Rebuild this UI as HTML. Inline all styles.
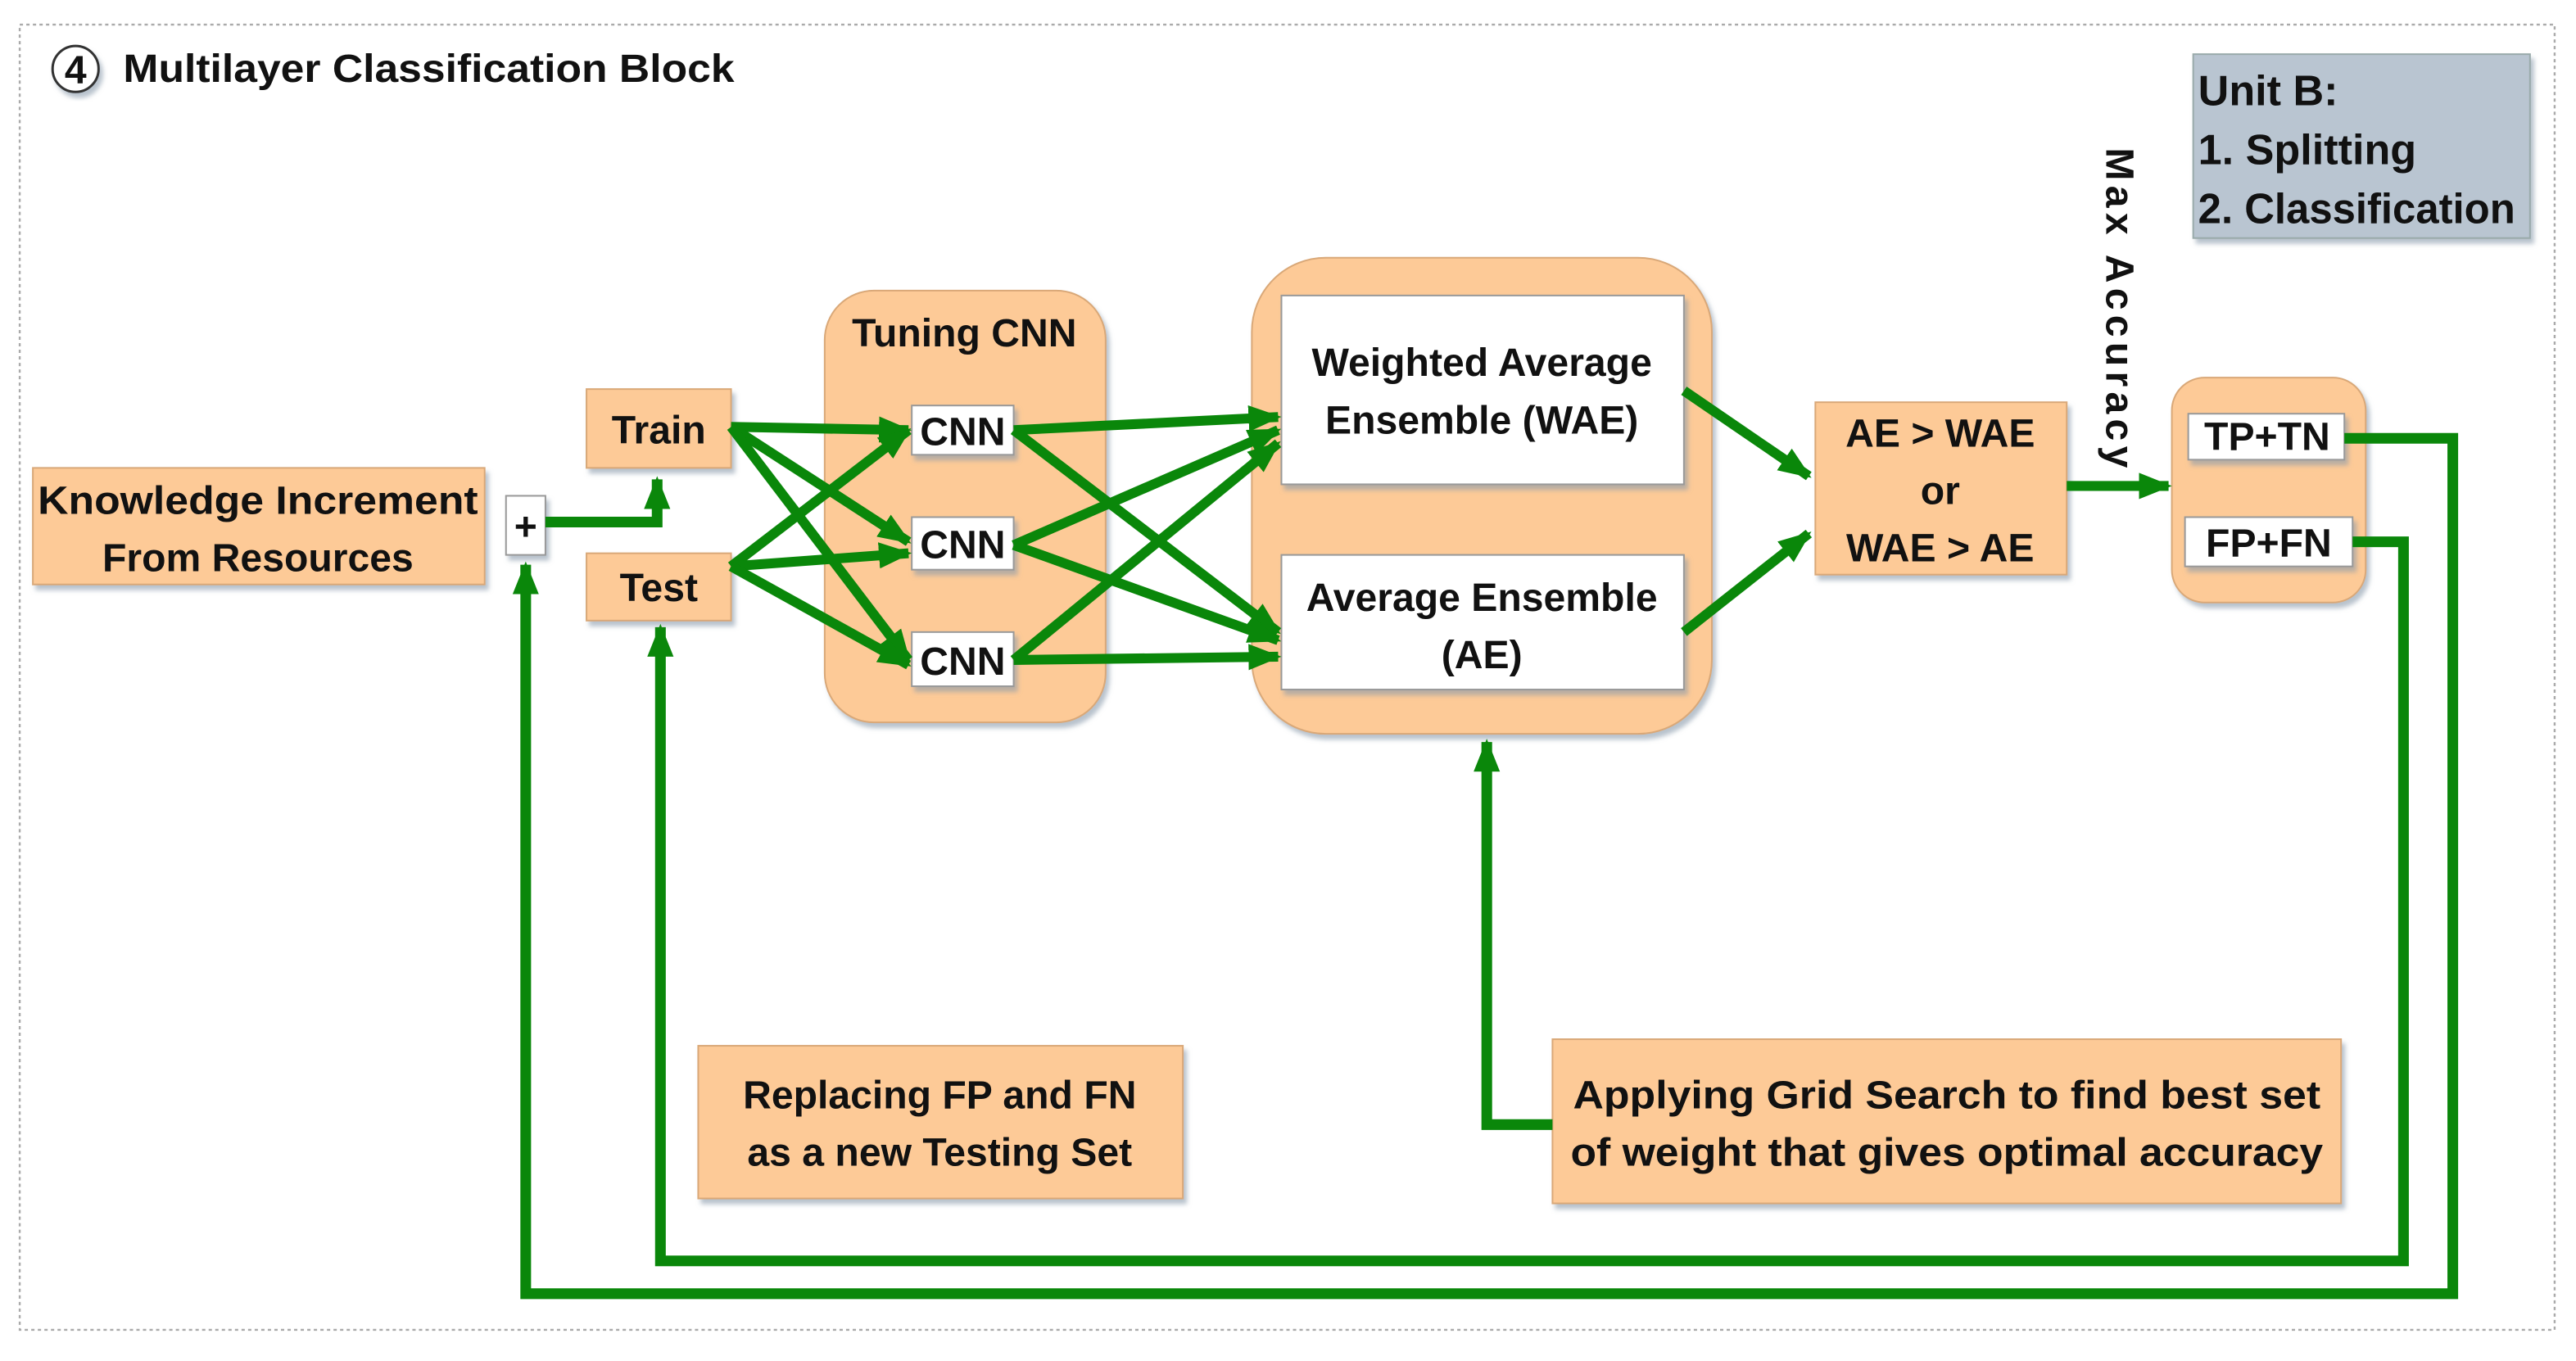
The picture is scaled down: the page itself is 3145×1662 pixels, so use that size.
<!DOCTYPE html>
<html><head><meta charset="utf-8"><style>
html,body{margin:0;padding:0;background:#fff}
svg{display:block}
text{font-family:"Liberation Sans",sans-serif;font-weight:bold;fill:#111}
</style></head><body>
<svg width="3145" height="1662" viewBox="0 0 1568 829" preserveAspectRatio="none" xmlns="http://www.w3.org/2000/svg">
<defs>
<marker id="a" markerUnits="userSpaceOnUse" markerWidth="20" markerHeight="20" viewBox="0 0 20 20" refX="18" refY="10" orient="auto">
<path d="M0,2 L20,10 L0,18 Z" fill="#0a870a"/></marker>
<filter id="sh" x="-10%" y="-10%" width="130%" height="130%"><feDropShadow dx="2" dy="3" stdDeviation="1.5" flood-color="#8899aa" flood-opacity="0.6"/></filter>
</defs>
<rect x="12" y="15" width="1543" height="795" fill="none" stroke="#aaa" stroke-width="1.2" stroke-dasharray="2,2"/>
<circle cx="46" cy="42" r="14" fill="#fff" stroke="#333" stroke-width="1.5" filter="url(#sh)"/>
<text x="46" y="51" font-size="24" text-anchor="middle">4</text>
<text x="75" y="50" font-size="24" textLength="372" lengthAdjust="spacingAndGlyphs">Multilayer Classification Block</text>

<rect x="1335" y="33" width="205" height="112" fill="#b9c5d1" stroke="#9aa" filter="url(#sh)"/>
<text x="1338" y="64" font-size="26">Unit B:</text>
<text x="1338" y="100" font-size="26">1. Splitting</text>
<text x="1338" y="136" font-size="26" textLength="193" lengthAdjust="spacingAndGlyphs">2. Classification</text>

<g fill="#fdca97" stroke="#d9a878" stroke-width="1" filter="url(#sh)">
<rect x="20" y="285" width="275" height="71"/>
<rect x="357" y="237" width="88" height="48"/>
<rect x="357" y="337" width="88" height="41"/>
<rect x="502" y="177" width="171" height="263" rx="30"/>
<rect x="762" y="157" width="280" height="290" rx="45"/>
<rect x="1105" y="245" width="153" height="105"/>
<rect x="1322" y="230" width="118" height="137" rx="20"/>
<rect x="425" y="637" width="295" height="93"/>
<rect x="945" y="633" width="480" height="100"/>
</g>
<g fill="#fff" stroke="#999" stroke-width="1" filter="url(#sh)">
<rect x="308" y="302" width="24" height="36"/>
<rect x="555" y="247" width="62" height="30"/>
<rect x="555" y="315" width="62" height="32"/>
<rect x="555" y="385" width="62" height="33"/>
<rect x="780" y="180" width="245" height="115"/>
<rect x="780" y="338" width="245" height="82"/>
<rect x="1332" y="252" width="95" height="28"/>
<rect x="1330" y="315" width="102" height="30"/>
</g>

<g font-size="24" text-anchor="middle">
<text x="157" y="313" textLength="268" lengthAdjust="spacingAndGlyphs">Knowledge Increment</text>
<text x="157" y="348">From Resources</text>
<text x="320" y="329">+</text>
<text x="401" y="270">Train</text>
<text x="401" y="366">Test</text>
<text x="587" y="211">Tuning CNN</text>
<text x="586" y="271">CNN</text>
<text x="586" y="340">CNN</text>
<text x="586" y="411">CNN</text>
<text x="902" y="229">Weighted Average</text>
<text x="902" y="264">Ensemble (WAE)</text>
<text x="902" y="372">Average Ensemble</text>
<text x="902" y="407">(AE)</text>
<text x="1181" y="272">AE &gt; WAE</text>
<text x="1181" y="307">or</text>
<text x="1181" y="342">WAE &gt; AE</text>
<text x="1380" y="274">TP+TN</text>
<text x="1381" y="339">FP+FN</text>
<text x="572" y="675">Replacing FP and FN</text>
<text x="572" y="710">as a new Testing Set</text>
<text x="1185" y="675" textLength="455" lengthAdjust="spacingAndGlyphs">Applying Grid Search to find best set</text>
<text x="1185" y="710" textLength="458" lengthAdjust="spacingAndGlyphs">of weight that gives optimal accuracy</text>
</g>
<text x="0" y="0" font-size="24" transform="translate(1282,90) rotate(90)" textLength="195" lengthAdjust="spacing">Max Accuracy</text>

<g stroke="#0a870a" stroke-width="6.5" fill="none" stroke-linejoin="miter">
<path d="M332,318 H400 V292" marker-end="url(#a)"/>
<path d="M1427,267 H1493 V788 H320 V344" marker-end="url(#a)"/>
<path d="M1432,330 H1463 V768 H402 V382" marker-end="url(#a)"/>
<path d="M945,685 H905 V452" marker-end="url(#a)"/>
<g stroke-width="6">
<path d="M445,260 L553,262" marker-end="url(#a)"/>
<path d="M445,260 L553,330" marker-end="url(#a)"/>
<path d="M445,260 L553,402" marker-end="url(#a)"/>
<path d="M445,345 L553,262" marker-end="url(#a)"/>
<path d="M445,345 L553,337" marker-end="url(#a)"/>
<path d="M445,345 L553,405" marker-end="url(#a)"/>
<path d="M617,262 L778,254" marker-end="url(#a)"/>
<path d="M617,262 L778,385" marker-end="url(#a)"/>
<path d="M617,332 L778,262" marker-end="url(#a)"/>
<path d="M617,332 L778,390" marker-end="url(#a)"/>
<path d="M617,402 L778,270" marker-end="url(#a)"/>
<path d="M617,402 L778,400" marker-end="url(#a)"/>
<path d="M1025,238 L1101,290" marker-end="url(#a)"/>
<path d="M1025,385 L1101,325" marker-end="url(#a)"/>
<path d="M1258,296 L1320,296" marker-end="url(#a)"/>
</g>
</g>
</svg>
</body></html>
